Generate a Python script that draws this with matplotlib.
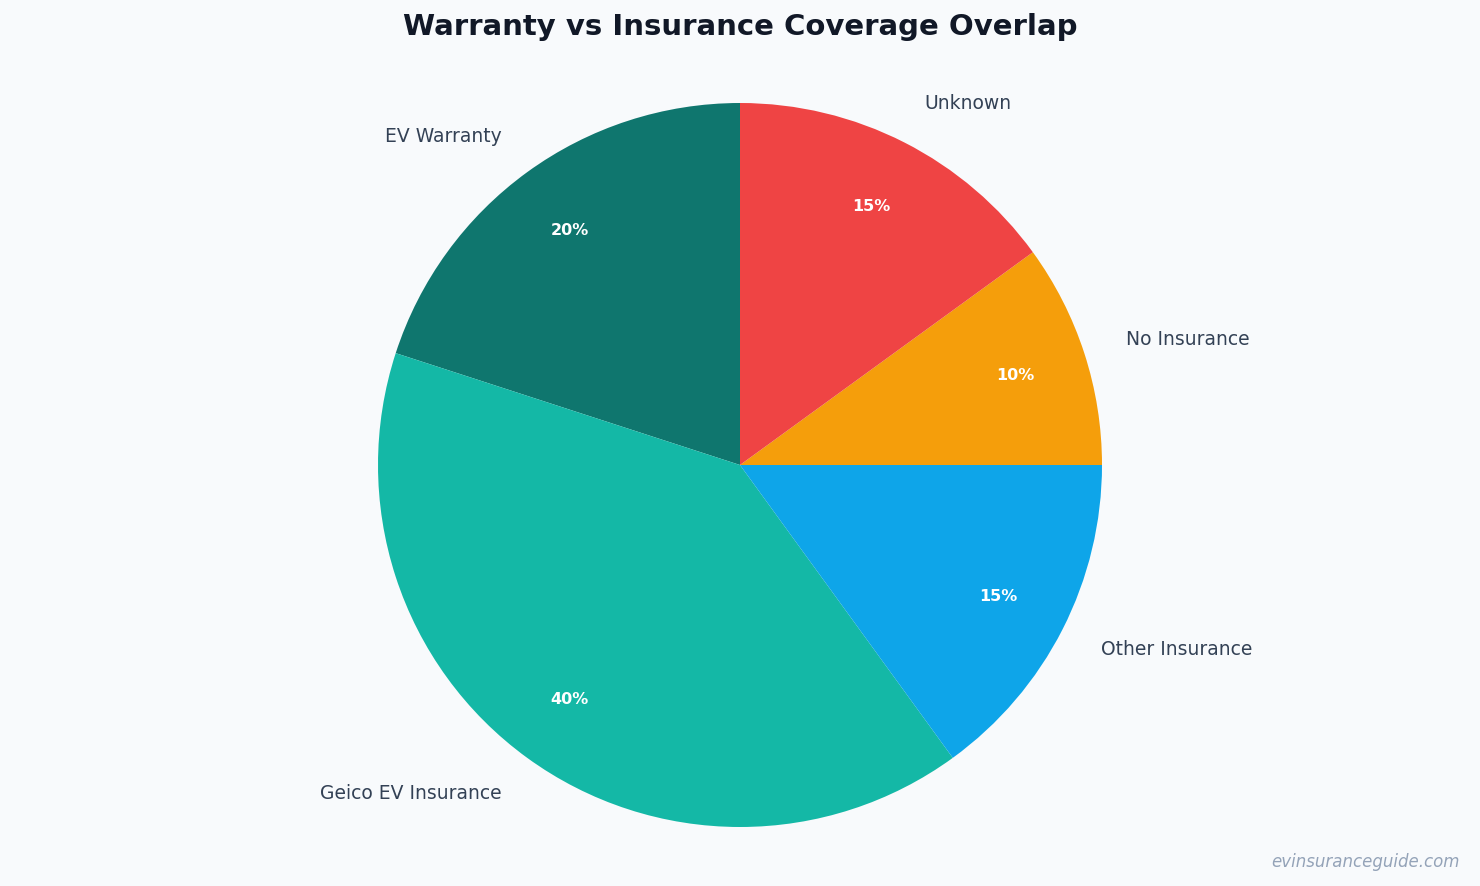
import matplotlib.pyplot as plt

# Coverage shares (%)
categories = ['EV Warranty', 'Geico EV Insurance', 'Other Insurance', 'No Insurance', 'Unknown']
shares = [20, 40, 15, 10, 15]
colors = ['#0f766e', '#14b8a6', '#0ea5e9', '#f59e0b', '#ef4444']

bg = '#f8fafc'
fig = plt.figure(figsize=(14.8, 8.86), dpi=100, facecolor=bg)

# axes sized so the pie sits at the reference position
ax = fig.add_axes([378 / 1480, 59 / 886, 724 / 1480, 724 / 886])
ax.set_facecolor(bg)

wedges, texts, autotexts = ax.pie(
    shares, labels=categories, colors=colors, startangle=90,
    counterclock=True, autopct='%1.0f%%', pctdistance=0.8, labeldistance=1.12,
    textprops={'fontsize': 13.5, 'color': '#334155'},
    wedgeprops={'linewidth': 0},
)
for t in autotexts:
    t.set_color('white')
    t.set_fontsize(11.5)
    t.set_fontweight('bold')

ax.set_xlim(-1, 1)
ax.set_ylim(-1, 1)
ax.set_aspect('equal')
ax.axis('off')

fig.text(0.5, 1 - 27 / 886, 'Warranty vs Insurance Coverage Overlap',
         ha='center', va='center', fontsize=21, fontweight='bold', color='#111827')
fig.text(1 - 20 / 1480, 1 - 862 / 886, 'evinsuranceguide.com',
         ha='right', va='center', fontsize=12, style='italic', color='#94a3b8')

fig.savefig('out.png', dpi=100, facecolor=bg)
